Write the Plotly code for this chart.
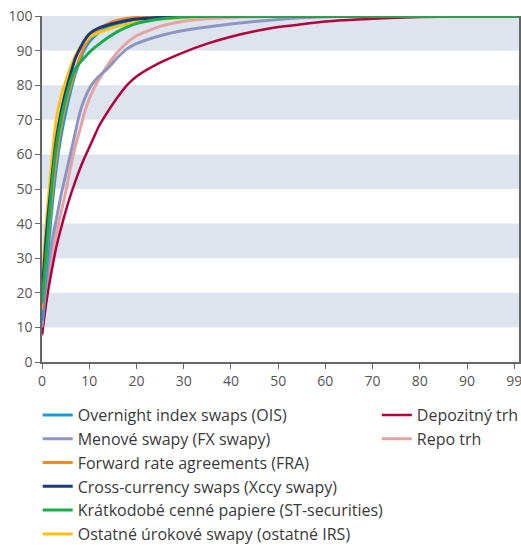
import plotly.graph_objects as go

x_days = [0, 1, 2, 3, 4, 5, 6, 7, 8, 9, 10, 11, 12, 14, 16, 18, 20, 25, 30, 35, 40, 45, 50, 55, 60, 70, 80, 90, 101]

ois   = [12, 28, 43, 56, 65, 72, 78, 83, 87, 90.3, 92.5, 94, 95.2, 96.8, 97.8, 98.5, 99, 99.6, 99.9, 100, 100, 100, 100, 100, 100, 100, 100, 100, 100]
fx    = [10, 24, 34, 41, 48, 54, 60, 66, 72, 76, 79, 81, 82.5, 85, 88, 90.5, 92, 94.3, 95.8, 96.8, 97.7, 98.4, 99, 99.5, 99.8, 100, 100, 100, 100]
fra   = [15, 32, 47, 59, 68, 74.5, 79.5, 84, 88, 91.3, 93.5, 95, 96.2, 97.8, 98.8, 99.3, 99.6, 99.9, 100, 100, 100, 100, 100, 100, 100, 100, 100, 100, 100]
xccy  = [19, 38, 52, 64, 72, 78, 83, 87.5, 90.5, 93, 94.8, 95.8, 96.5, 97.4, 98.1, 98.7, 99.1, 99.6, 99.9, 100, 100, 100, 100, 100, 100, 100, 100, 100, 100]
stsec = [17, 33, 50, 62, 70, 76, 81, 84.5, 86.5, 88, 89.5, 90.7, 91.8, 93.8, 95.5, 96.8, 97.8, 99.1, 99.7, 100, 100, 100, 100, 100, 100, 100, 100, 100, 100]
irs   = [23, 42, 57, 70, 76.5, 81, 85, 88.3, 90.8, 92.5, 93.8, 94.6, 95.2, 96.2, 97, 97.6, 98.2, 99.1, 99.6, 99.9, 100, 100, 100, 100, 100, 100, 100, 100, 100]
depo  = [8, 18, 26, 33, 38.5, 43.5, 48, 52, 55.7, 59, 62, 65, 68, 72.5, 76.5, 80, 82.5, 86.5, 89.5, 92, 94, 95.6, 96.8, 97.6, 98.4, 99.2, 99.7, 99.9, 100]
repo  = [7.5, 20, 30, 37, 43, 49, 56, 62, 67, 72, 76, 79, 81.5, 86, 89.5, 92.3, 94.3, 97, 98.5, 99.2, 99.6, 99.8, 99.9, 100, 100, 100, 100, 100, 100]

x_tickvals = [0, 10, 20, 30, 40, 50, 60, 70, 80, 90, 100]
x_ticktext = ["0", "10", "20", "30", "40", "50", "60", "70", "80", "90", "99"]
y_tickvals = [0, 10, 20, 30, 40, 50, 60, 70, 80, 90, 100]
bands = [(10, 20), (30, 40), (50, 60), (70, 80), (90, 100)]

# (name, values, color, width, legend, rank)
series = [
    ("Repo trh", repo, "#e3a3a3", 3, "legend2", 8),
    ("Depozitný trh", depo, "#b5003e", 2.5, "legend2", 7),
    ("Menové swapy (FX swapy)", fx, "#8f95c2", 3, "legend", 2),
    ("Overnight index swaps (OIS)", ois, "#1a9bd7", 3, "legend", 1),
    ("Forward rate agreements (FRA)", fra, "#f28a27", 3, "legend", 3),
    ("Ostatné úrokové swapy (ostatné IRS)", irs, "#fdc20e", 3, "legend", 6),
    ("Cross-currency swaps (Xccy swapy)", xccy, "#1b3b78", 3, "legend", 4),
    ("Krátkodobé cenné papiere (ST-securities)", stsec, "#1aab4c", 3, "legend", 5),
]

fig = go.Figure()
for name, vals, col, w, lg, rank in series:
    fig.add_trace(go.Scatter(
        x=x_days, y=vals, name=name, mode="lines",
        line=dict(color=col, width=w, shape="spline", smoothing=0.6),
        legend=lg, legendrank=rank, legendgroup=name,
    ))

for y0, y1 in bands:
    fig.add_shape(type="rect", xref="paper", yref="y", x0=0, x1=1, y0=y0, y1=y1,
                  fillcolor="#dee4ee", line_width=0, layer="below")

legend_common = dict(
    font=dict(family="Open Sans", size=16, color="#3a3a3a"),
    bgcolor="rgba(0,0,0,0)", orientation="v", yanchor="top", xanchor="left",
    tracegroupgap=0, itemwidth=30,
)

fig.update_layout(
    width=521, height=545,
    margin=dict(l=42, r=2, t=16, b=183, autoexpand=False),
    plot_bgcolor="white", paper_bgcolor="white",
    font=dict(family="Open Sans", size=14, color="#555555"),
    showlegend=True,
    legend=dict(x=-0.009, y=-0.104, **legend_common),
    legend2=dict(x=0.702, y=-0.104, **legend_common),
    xaxis=dict(range=[0, 101], tickvals=x_tickvals, ticktext=x_ticktext,
               showgrid=False, zeroline=False, showline=True, linecolor="#666666",
               linewidth=1.5, ticks="outside", ticklen=5, tickcolor="#666666",
               automargin=False, ticklabeloverflow="allow",
               tickfont=dict(size=14, color="#555555")),
    yaxis=dict(range=[0, 100], tickvals=y_tickvals, showgrid=False, zeroline=False,
               showline=True, linecolor="#666666", linewidth=1.5, mirror=True,
               ticks="outside", ticklen=5, tickcolor="#666666",
               automargin=False, tickfont=dict(size=14, color="#555555")),
)

fig.write_html("out.html", config={"displayModeBar": False},
               post_script="document.body.style.margin='0';document.body.style.overflow='hidden';")
